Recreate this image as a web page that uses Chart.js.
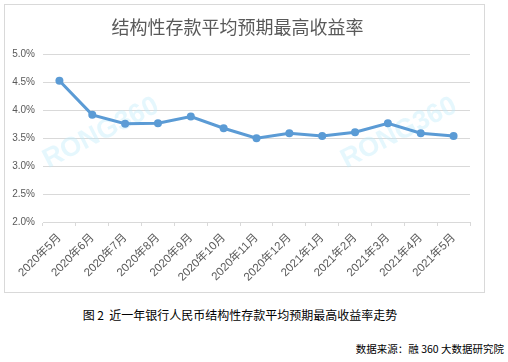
<!DOCTYPE html>
<html>
<head>
<meta charset="utf-8">
<script src="https://cdn.jsdelivr.net/npm/chart.js@4/dist/chart.umd.min.js"></script>
<style>
    body { margin: 0; width: 508px; height: 362px; background: #fff; position: relative; overflow: hidden; }
    #box { position: absolute; left: 4px; top: 4px; width: 479px; height: 287px; border: 1px solid #d9d9d9; }
    #chart { display: block; }
    .caption { position: absolute; font-family: "Noto Sans CJK SC", sans-serif; color: #000; white-space: nowrap; }
    #fig { left: 0; width: 480px; text-align: center; top: 306px; font-size: 12px; }
    #src { right: 4px; top: 341px; font-size: 10.5px; }
</style>
</head>
<body>
<div id="box"><canvas id="chart" width="479" height="287"></canvas></div>
<div class="caption" id="fig">图 2&nbsp; 近一年银行人民币结构性存款平均预期最高收益率走势</div>
<div class="caption" id="src">数据来源：融 360 大数据研究院</div>
<script>
const chartTitle = '结构性存款平均预期最高收益率';
const months = ['2020年5月', '2020年6月', '2020年7月', '2020年8月', '2020年9月', '2020年10月', '2020年11月',
    '2020年12月', '2021年1月', '2021年2月', '2021年3月', '2021年4月', '2021年5月'];
const rates = [4.53, 3.92, 3.76, 3.77, 3.89, 3.68, 3.50, 3.59, 3.54, 3.61, 3.77, 3.59, 3.54];
const yTicks = [2.0, 2.5, 3.0, 3.5, 4.0, 4.5, 5.0];

const lineColor = '#5b9bd5';
const gridColor = '#d9d9d9';
const textColor = '#595959';

// faint RONG360 watermarks behind the line
const watermark = {
    id: 'watermark',
    beforeDatasetsDraw(chart) {
        const ctx = chart.ctx;
        ctx.save();
        ctx.font = 'bold 27px "Liberation Sans", Arial, sans-serif';
        ctx.fillStyle = 'rgba(190, 235, 250, 0.4)';
        ctx.textAlign = 'center';
        ctx.textBaseline = 'middle';
        [[96, 128], [394, 128]].forEach(([x, y]) => {
            ctx.save();
            ctx.translate(x, y);
            ctx.rotate(-27 * Math.PI / 180);
            ctx.fillText('RONG360', 0, 0);
            ctx.restore();
        });
        ctx.restore();
    }
};

new Chart(document.getElementById('chart'), {
    type: 'line',
    data: {
        labels: months,
        datasets: [{
            data: rates,
            borderColor: lineColor,
            backgroundColor: lineColor,
            borderWidth: 3,
            pointRadius: 4,
            pointBorderWidth: 0,
            tension: 0
        }]
    },
    options: {
        responsive: false,
        animation: false,
        layout: { padding: { left: 0, right: 14, top: 0, bottom: 0 } },
        plugins: {
            legend: { display: false },
            tooltip: { enabled: false },
            title: {
                display: true,
                text: chartTitle,
                color: textColor,
                font: { family: '"Noto Sans CJK SC", sans-serif', size: 18, weight: 'normal' },
                padding: { top: 11, bottom: 17 }
            }
        },
        scales: {
            x: {
                offset: true,
                grid: { offset: true, drawOnChartArea: false, color: gridColor, tickLength: 4 },
                border: { color: gridColor },
                ticks: {
                    color: textColor,
                    font: { family: '"Liberation Sans", "Noto Sans CJK SC", sans-serif', size: 11.5 },
                    minRotation: 45,
                    maxRotation: 45,
                    padding: 5,
                    autoSkip: false
                },
                afterFit(scale) { scale.height = 70; }
            },
            y: {
                min: 2.0,
                max: 5.0,
                afterBuildTicks(scale) { scale.ticks = yTicks.map(v => ({ value: v })); },
                grid: { color: gridColor, drawTicks: false },
                border: { display: false },
                ticks: {
                    color: textColor,
                    font: { family: '"Liberation Sans", sans-serif', size: 10 },
                    padding: 8,
                    callback: v => v.toFixed(1) + '%'
                },
                afterFit(scale) { scale.width = 38; }
            }
        }
    },
    plugins: [watermark]
});
</script>
</body>
</html>
